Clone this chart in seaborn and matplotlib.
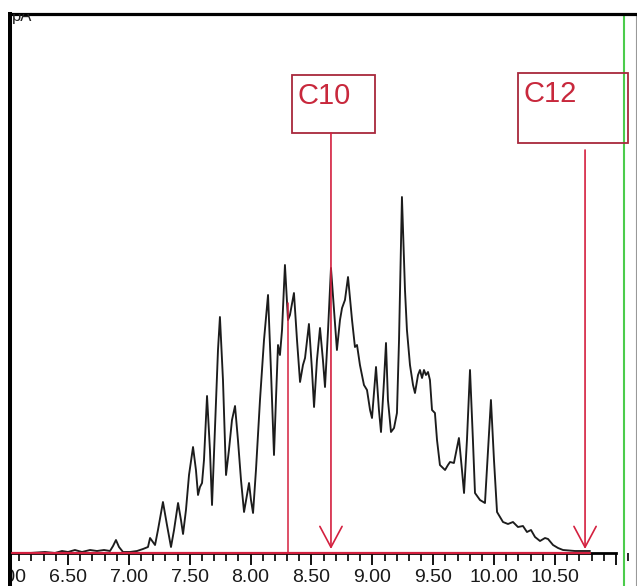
import matplotlib
matplotlib.use("Agg")
import matplotlib.pyplot as plt
from matplotlib.patches import Rectangle
from matplotlib.ticker import MultipleLocator, FuncFormatter
import pandas as pd
import seaborn as sns

# FID trace: retention time (min) and detector signal (pA)
RT = [6.040, 6.188, 6.311, 6.393, 6.451, 6.500, 6.557, 6.615, 6.681, 6.738,
      6.796, 6.845, 6.870, 6.894, 6.919, 6.952, 7.009, 7.067, 7.116, 7.157,
      7.174, 7.198, 7.215, 7.239, 7.280, 7.313, 7.346, 7.371, 7.404, 7.428,
      7.445, 7.469, 7.494, 7.527, 7.551, 7.568, 7.584, 7.601, 7.617, 7.642,
      7.666, 7.683, 7.707, 7.732, 7.748, 7.773, 7.798, 7.822, 7.847, 7.872,
      7.896, 7.921, 7.946, 7.970, 7.987, 8.003, 8.020, 8.044, 8.077, 8.110,
      8.143, 8.167, 8.192, 8.208, 8.225, 8.241, 8.258, 8.282, 8.307, 8.323,
      8.356, 8.381, 8.406, 8.430, 8.447, 8.479, 8.504, 8.521, 8.545, 8.570,
      8.594, 8.611, 8.636, 8.660, 8.685, 8.709, 8.734, 8.751, 8.775, 8.800,
      8.833, 8.857, 8.874, 8.898, 8.931, 8.956, 8.981, 8.997, 9.030, 9.054,
      9.071, 9.096, 9.112, 9.128, 9.153, 9.178, 9.202, 9.219, 9.243, 9.268,
      9.284, 9.309, 9.334, 9.350, 9.375, 9.391, 9.408, 9.424, 9.440, 9.457,
      9.473, 9.490, 9.514, 9.531, 9.555, 9.597, 9.621, 9.638, 9.670, 9.711,
      9.736, 9.753, 9.777, 9.802, 9.826, 9.843, 9.884, 9.925, 9.950, 9.974,
      9.999, 10.024, 10.073, 10.114, 10.155, 10.196, 10.237, 10.270, 10.303, 10.336,
      10.377, 10.418, 10.443, 10.484, 10.525, 10.566, 10.664, 10.788]
SIGNAL = [0.0, 0.0, 0.1, 0.0, 0.2, 0.1, 0.3, 0.1, 0.3, 0.2,
          0.3, 0.2, 0.7, 1.3, 0.6, 0.1, 0.1, 0.2, 0.4, 0.6,
          1.5, 1.1, 0.8, 2.3, 5.1, 2.8, 0.6, 2.3, 5.0, 3.3,
          1.9, 4.3, 7.8, 10.6, 8.3, 5.8, 6.6, 7.0, 9.3, 15.7,
          10.3, 4.8, 12.3, 20.3, 23.6, 17.3, 7.8, 10.3, 13.3, 14.7,
          11.3, 7.3, 4.1, 5.8, 7.0, 5.3, 4.0, 8.3, 15.3, 21.3,
          25.8, 18.3, 9.8, 15.3, 20.8, 19.8, 22.3, 28.8, 23.3, 23.8,
          26.0, 21.3, 17.1, 18.8, 19.5, 22.9, 18.3, 14.6, 19.3, 22.5,
          19.3, 16.6, 22.3, 28.5, 24.3, 20.3, 23.3, 24.5, 25.3, 27.6,
          23.3, 20.6, 20.8, 18.8, 16.8, 16.3, 14.3, 13.5, 18.6, 14.3,
          12.1, 17.3, 21.0, 15.3, 12.1, 12.5, 14.0, 21.3, 35.6, 26.3,
          22.3, 18.8, 16.8, 16.0, 17.8, 18.3, 17.5, 18.3, 17.8, 18.1,
          17.3, 14.3, 14.0, 11.3, 8.8, 8.3, 8.8, 9.1, 9.0, 11.5,
          8.3, 6.0, 11.3, 18.3, 11.3, 6.0, 5.3, 5.0, 10.3, 15.3,
          9.3, 4.1, 3.1, 2.9, 3.1, 2.6, 2.7, 2.1, 2.3, 1.6,
          1.2, 1.5, 1.4, 0.8, 0.5, 0.3, 0.2, 0.2]

PEAK_NAMES = ["C10", "C12"]
PEAK_RT = [8.660, 10.747]

TICK_START, TICK_STOP = 6.0, 11.0
LABEL_STOP = 10.5
BASELINE_RT = [6.04, 10.79]
DROP_RT, DROP_TOP = 8.307, 25.0
MARKER_RT = 11.067

RED = "#d4203f"
BOX_RED = "#a8283c"

sns.set_style("white")
plt.rcParams["font.family"] = ["Liberation Sans", "DejaVu Sans"]

W, H = 637, 586
fig = plt.figure(figsize=(W / 100, H / 100), dpi=100)
ax = fig.add_axes([0, 0, 636 / W, 572 / H])

df = pd.DataFrame({"rt": RT, "pA": SIGNAL})
sns.lineplot(data=df, x="rt", y="pA", sort=False, estimator=None,
             color="#1c1c1c", lw=1.35, ax=ax, zorder=2.2,
             solid_joinstyle="round", solid_capstyle="round")

ax.set_xlim(5.9415, 11.1655)
ax.set_ylim(-3.3, 53.9)
ax.set_xlabel("")
ax.set_ylabel("")
ax.set_yticks([])

# integration baseline, drop line and peak markers
ax.plot(BASELINE_RT, [0, 0], color=RED, lw=1.6, zorder=3)
ax.plot([DROP_RT, DROP_RT], [0, DROP_TOP], color=RED, lw=1.1, zorder=3)
ax.axvline(MARKER_RT, color="#4ccc4c", lw=1.5, zorder=1)

box_specs = [  # left offset, right offset, bottom, top, line start
    (-0.320, 0.362, 42.0, 47.8, 42.0),
    (-0.551, 0.353, 41.0, 48.0, 40.3),
]
for name, rt, (lo, hi, b, t, start) in zip(PEAK_NAMES, PEAK_RT, box_specs):
    ax.add_patch(Rectangle((rt + lo, b), hi - lo, t - b, fill=False,
                           ec=BOX_RED, lw=1.3, zorder=3))
    ax.text(rt + lo + 0.042, t - 0.7, name, ha="left", va="top",
            fontsize=21, color="#c8283c", zorder=3)
    ax.annotate("", xy=(rt, 0.4), xytext=(rt, start),
                arrowprops=dict(arrowstyle="->,head_length=0.75,head_width=0.4",
                                color=RED, lw=1.2, shrinkA=0, shrinkB=0,
                                mutation_scale=20),
                zorder=3)

# signal unit, partly hidden under the top of the frame
ax.text(12 / 636, 1 - 7 / 572, "pA", transform=ax.transAxes, ha="left",
        va="baseline", fontsize=12, color="#222222", clip_on=True)

# axes frame
for side in ("left", "top", "right", "bottom"):
    ax.spines[side].set_visible(True)
ax.spines["left"].set_position(("data", 6.0236))
ax.spines["left"].set_linewidth(2.9)
ax.spines["left"].set_color("black")
ax.spines["top"].set_linewidth(2.3)
ax.spines["top"].set_color("black")
ax.spines["right"].set_linewidth(0.8)
ax.spines["right"].set_color("#999999")
ax.spines["bottom"].set_position(("data", 0))
ax.spines["bottom"].set_bounds(TICK_START, TICK_STOP)
ax.spines["bottom"].set_linewidth(2.0)
ax.spines["bottom"].set_color("black")

ax.xaxis.set_major_locator(MultipleLocator(0.5))
ax.xaxis.set_minor_locator(MultipleLocator(0.1))
ax.xaxis.set_major_formatter(
    FuncFormatter(lambda v, _: f"{v:.2f}" if v <= LABEL_STOP + 1e-6 else ""))
ax.tick_params(axis="x", which="major", direction="out", length=8.5,
               width=1.3, color="black", labelsize=14, pad=3,
               labelcolor="#1a1a1a", bottom=True)
ax.tick_params(axis="x", which="minor", direction="out", length=5.5,
               width=1.2, color="black", bottom=True)

# white margin left of the frame
fig.patches.append(Rectangle((0, 0), 8.3 / W, 1, transform=fig.transFigure,
                             fc="white", ec="none", zorder=10))

fig.savefig("out.png", dpi=100)
